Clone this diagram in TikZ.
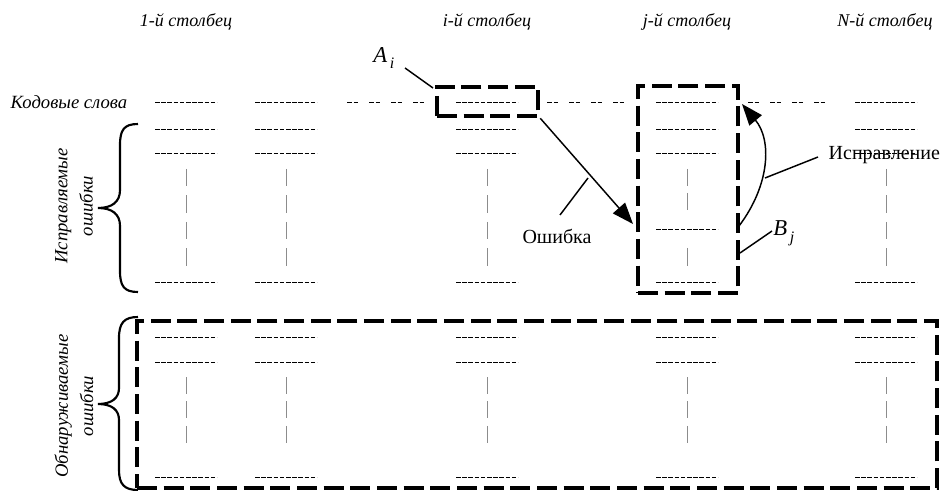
\documentclass[tikz,border=0pt]{standalone}
\usepackage{fontspec}
\setmainfont{Liberation Serif}
\usetikzlibrary{arrows.meta,calc}

\begin{document}
\begin{tikzpicture}[x=0.75pt,y=-0.75pt,
  codeword/.style={line width=0.7pt, dash pattern=on 3.4pt off 1.25pt},
  gapline/.style={line width=0.7pt, dash pattern=on 3.4pt off 1.5pt on 3.4pt off 8.2pt},
  vtop/.style={black!45, line width=0.7pt, dash pattern=on 13.1pt off 6.75pt},
  vbot/.style={black!45, line width=0.7pt, dash pattern=on 12.75pt off 5.6pt},
  frame/.style={draw, line width=3.4pt, dash pattern=on 15pt off 5pt, inner sep=0pt},
  leader/.style={line width=1.1pt},
  tipline/.style={line width=1.1pt, -{Triangle[length=16pt,width=12pt]}},
  head/.style={font=\fontsize{13.5}{16}\selectfont\itshape},
  side/.style={font=\fontsize{14}{19}\selectfont\itshape, align=center, rotate=90},
  word/.style={font=\fontsize{15}{18}\selectfont},
  brace/.style={line width=1.6pt}]

\useasboundingbox (0,0) rectangle (948,491);

% column headers
\node[head] (h1) at (186,22) {1-й столбец};
\node[head] (hi) at (487,22) {i-й столбец};
\node[head] (hj) at (687,22) {j-й столбец};
\node[head] (hn) at (885,22) {N-й столбец};

\node[font=\fontsize{14}{16}\selectfont\itshape] (cw) at (69,102) {Кодовые слова};

% rows of code words in every column
\foreach \cx in {186,286,487,687,886} {
  \foreach \ry in {102,129,153,282,337,362,477}
    \draw[codeword] (\cx-31,\ry) -- (\cx+31,\ry);
  \draw[vbot] (\cx,377) -- (\cx,443);
}
\foreach \cx in {186,286,487,886}
  \draw[vtop] (\cx,169) -- (\cx,266);
\draw[codeword] (656,229) -- (718,229);
\draw[black!45, line width=0.7pt, dash pattern=on 12.75pt off 5.25pt] (687,169) -- (687,210);
\draw[black!45, line width=0.7pt] (687,248) -- (687,266);

% omitted columns in the first row
\draw[gapline] (347,102) -- (425,102);
\draw[gapline] (547,102) -- (625,102);
\draw[gapline] (748,102) -- (828,102);

% frames
\node[frame, minimum width=75.75pt, minimum height=21.75pt] (ai) at (487.5,101.5) {};
\node[frame, minimum width=75pt, minimum height=155.25pt] (bj) at (688,189.5) {};
\node[frame, minimum width=600pt, minimum height=125.25pt] (big) at (537,404.5) {};

% labels A_i and B_j
\node[anchor=base west, inner sep=0pt] (alab) at (373,63)
  {\fontsize{17}{17}\selectfont\itshape A\hspace{2pt}\raisebox{-4pt}{\fontsize{12}{12}\selectfont i}};
\coordinate (aend) at (405,68);
\draw[leader] (aend) -- (433,88);

\node[anchor=base west, inner sep=0pt] (blab) at (773,236)
  {\fontsize{17}{17}\selectfont\itshape B\hspace{2pt}\raisebox{-5pt}{\fontsize{12}{12}\selectfont j}};
\coordinate (bstart) at (740,253);
\draw[leader] (bstart) -- (772,231);

% error arrow
\coordinate (errtip) at (633,224);
\draw[tipline] (ai.south east) -- (errtip);
\node[word] (err) at (557,236) {Ошибка};
\draw[leader] (560,215) -- (588,178);

% correction arrow
\coordinate (cfrom) at (739,226);
\coordinate (cto) at (742,104);
\draw[tipline] (cfrom) .. controls (770,185) and (772,140) .. (cto);
\node[word, anchor=west] (corr) at (824,155) {Исправление};
\draw[leader] (765,178) -- (818,157);

% braces with their labels
\draw[brace] (138,124) .. controls (124,124) and (120,130) .. (120,145) -- (120,190)
  .. controls (120,202) and (112,208) .. (98,208)
  .. controls (112,208) and (120,214) .. (120,226) -- (120,271)
  .. controls (120,286) and (124,292) .. (138,292);
\node[side] (l1) at (74,206) {Исправляемые\\ошибки};

\draw[brace] (138,317) .. controls (124,317) and (119,323) .. (119,338) -- (119,388)
  .. controls (119,398) and (112,404) .. (98,404)
  .. controls (112,404) and (119,410) .. (119,420) -- (119,470)
  .. controls (119,484) and (124,490) .. (138,490);
\node[side] (l2) at (74,406) {Обнаруживаемые\\ошибки};

\end{tikzpicture}
\end{document}
